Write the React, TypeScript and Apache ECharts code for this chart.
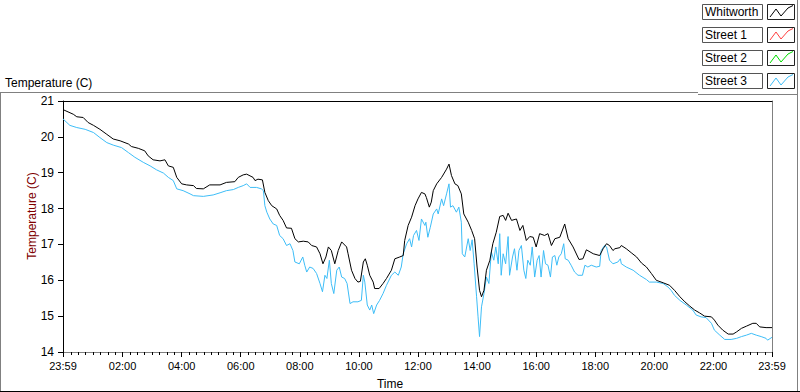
import React, { useEffect, useRef } from "react";
import * as echarts from "echarts";

// ---- Data (minutes elapsed since the 23:59 start, temperature in °C) ----
const seriesNames = ["Whitworth", "Street 1", "Street 2", "Street 3"];

const whitworthMinutes = [
  0, 21, 28, 41, 51, 62, 75, 89, 102, 116, 133, 139, 153, 166, 173, 183, 197, 207, 214, 224,
  231, 241, 251, 265, 271, 285, 298, 319, 332, 349, 356, 366, 373, 386, 390, 396, 405, 410, 417, 424,
  434, 440, 447, 454, 464, 471, 478, 488, 498, 505, 515, 522, 528, 534, 539, 545, 552, 559, 566, 576,
  579, 586, 593, 599, 604, 610, 614, 618, 623, 630, 633, 642, 650, 657, 667, 674, 684, 691, 694, 701,
  708, 715, 721, 728, 735, 738, 744, 748, 752, 759, 769, 779, 784, 789, 796, 802, 809, 814, 823, 830,
  836, 841, 846, 850, 855, 860, 867, 873, 880, 887, 894, 899, 904, 911, 921, 928, 934, 941, 948, 955,
  961, 968, 978, 985, 992, 999, 1009, 1019, 1026, 1036, 1048, 1056, 1063, 1077, 1090, 1097, 1104, 1110, 1117, 1121,
  1131, 1134, 1144, 1154, 1165, 1175, 1185, 1195, 1205, 1219, 1232, 1242, 1253, 1263, 1273, 1283, 1293, 1303, 1317, 1323,
  1330, 1340, 1351, 1361, 1368, 1378, 1388, 1401, 1408, 1415, 1428, 1440,
];
const whitworthTemp = [
  20.76, 20.63, 20.56, 20.54, 20.4, 20.32, 20.21, 20.07, 19.94, 19.89, 19.8, 19.73, 19.68, 19.61, 19.47, 19.36, 19.33, 19.36, 19.19, 19.15,
  18.87, 18.69, 18.66, 18.64, 18.56, 18.55, 18.66, 18.66, 18.73, 18.75, 18.87, 18.94, 18.96, 18.87, 18.78, 18.82, 18.8, 18.45, 18.22, 18.08,
  17.99, 17.81, 17.67, 17.46, 17.45, 17.16, 17.07, 17.09, 17.07, 16.97, 16.93, 16.74, 16.46, 16.65, 16.93, 16.83, 16.46, 16.83, 17.07, 16.93,
  16.74, 16.28, 16.05, 15.95, 15.97, 16.51, 16.6, 16.42, 16.14, 15.95, 15.77, 15.77, 15.91, 16.05, 16.28, 16.6, 16.65, 16.69, 17.11, 17.53,
  17.76, 18.08, 18.27, 18.45, 18.41, 18.31, 18.04, 18.18, 18.5, 18.69, 18.87, 19.1, 19.24, 18.92, 18.69, 18.64, 18.41, 17.85, 17.62, 17.39,
  17.16, 16.37, 15.72, 15.54, 15.72, 16.28, 16.56, 17.02, 17.34, 17.78, 17.81, 17.67, 17.87, 17.67, 17.71, 17.39, 17.53, 17.11, 17.22, 17.2,
  16.93, 17.3, 17.25, 17.3, 16.97, 17.16, 17.2, 17.57, 17.16, 16.93, 16.58, 16.6, 16.85, 16.74, 16.69, 16.88, 17.02, 16.97, 16.83, 16.88,
  16.91, 16.97, 16.88, 16.77, 16.65, 16.48, 16.37, 16.19, 16.0, 15.93, 15.86, 15.72, 15.54, 15.4, 15.28, 15.17, 15.09, 15.0, 14.98, 14.89,
  14.75, 14.61, 14.5, 14.5, 14.56, 14.66, 14.72, 14.8, 14.8, 14.7, 14.68, 14.68,
];

const street3Minutes = [
  0, 14, 28, 45, 62, 75, 89, 102, 119, 133, 146, 163, 177, 190, 204, 214, 224, 231, 244, 258,
  265, 285, 305, 319, 332, 346, 356, 366, 373, 380, 393, 403, 407, 410, 414, 420, 427, 434, 440, 447,
  454, 461, 467, 471, 480, 487, 491, 495, 501, 508, 515, 522, 527, 532, 536, 541, 545, 550, 556, 561,
  566, 572, 577, 583, 589, 599, 606, 610, 613, 618, 623, 627, 631, 637, 643, 650, 657, 667, 674, 681,
  687, 691, 698, 704, 708, 712, 718, 723, 728, 735, 737, 741, 746, 752, 759, 762, 769, 773, 779, 784,
  787, 792, 799, 804, 809, 811, 816, 823, 827, 831, 835, 840, 843, 846, 850, 855, 860, 865, 870, 875,
  879, 884, 887, 890, 894, 899, 904, 907, 913, 917, 922, 926, 931, 936, 940, 944, 949, 953, 958, 963,
  967, 971, 976, 980, 985, 990, 994, 999, 1003, 1007, 1012, 1017, 1020, 1026, 1032, 1039, 1046, 1055, 1060, 1066,
  1073, 1083, 1090, 1093, 1100, 1104, 1110, 1117, 1127, 1132, 1134, 1144, 1158, 1171, 1185, 1191, 1205, 1219, 1229, 1235,
  1242, 1253, 1266, 1279, 1286, 1296, 1306, 1317, 1323, 1334, 1344, 1357, 1368, 1378, 1388, 1398, 1408, 1418, 1428, 1431,
  1440,
];
const street3Temp = [
  20.5, 20.32, 20.26, 20.21, 20.12, 19.98, 19.84, 19.77, 19.7, 19.56, 19.43, 19.29, 19.19, 19.08, 18.99, 18.87, 18.78, 18.55, 18.5, 18.41,
  18.36, 18.34, 18.38, 18.44, 18.5, 18.53, 18.59, 18.64, 18.69, 18.59, 18.59, 18.55, 18.5, 18.08, 17.9, 17.71, 17.57, 17.53, 17.25, 17.16,
  16.97, 17.02, 16.83, 16.51, 16.46, 16.65, 16.42, 16.23, 16.37, 16.33, 16.19, 15.91, 15.68, 16.14, 16.05, 16.56, 15.91, 15.63, 16.28, 16.37,
  16.09, 16.05, 15.91, 15.35, 15.4, 15.4, 15.44, 16.14, 15.95, 15.31, 15.17, 15.31, 15.07, 15.31, 15.44, 15.63, 15.86, 16.14, 16.23, 16.14,
  16.37, 16.74, 17.02, 17.16, 16.93, 17.25, 17.39, 17.11, 17.71, 17.53, 17.62, 17.2, 17.48, 17.85, 17.99, 17.85, 18.27, 18.08, 18.41, 18.69,
  18.04, 18.08, 17.9, 18.04, 17.62, 16.74, 16.65, 17.16, 16.83, 17.13, 16.46, 15.54, 14.98, 14.43, 15.26, 15.63, 16.09, 15.91, 16.79, 16.56,
  16.93, 16.46, 17.3, 16.14, 16.74, 16.46, 17.22, 16.14, 16.65, 16.88, 16.28, 16.83, 16.97, 16.28, 16.05, 16.56, 16.42, 16.93, 16.09, 16.56,
  16.69, 16.09, 16.83, 16.46, 16.42, 16.09, 16.65, 16.69, 16.42, 16.65, 16.74, 17.02, 16.6, 16.56, 16.42, 16.23, 16.14, 16.14, 16.42, 16.37,
  16.42, 16.37, 16.39, 16.83, 16.97, 16.93, 16.56, 16.46, 16.51, 16.6, 16.46, 16.37, 16.28, 16.14, 16.02, 15.95, 15.95, 15.91, 15.81, 15.72,
  15.58, 15.44, 15.31, 15.17, 15.03, 14.98, 14.96, 14.8, 14.61, 14.47, 14.35, 14.35, 14.38, 14.43, 14.47, 14.52, 14.47, 14.43, 14.38, 14.33,
  14.41,
];

const street1Minutes: number[] = [];
const street1Temp: number[] = [];
const street2Minutes: number[] = [];
const street2Temp: number[] = [];

const xTickLabels = ["23:59", "02:00", "04:00", "06:00", "08:00", "10:00", "12:00", "14:00", "16:00", "18:00", "20:00", "22:00", "23:59"];
const yMin = 14;
const yMax = 21;
const yStep = 1;
const minorTickStep = 15; // minutes

const seriesColors = ["#000000", "#ff4040", "#00dd00", "#3dbdf7"];

const START = 23 * 60 + 59;
const SPAN = 1440;

function clockToOffset(label: string, isLast: boolean) {
  const [h, m] = label.split(":").map(Number);
  const off = (h * 60 + m - START + SPAN) % SPAN;
  return isLast && off === 0 ? SPAN : off;
}
function offsetToClock(v: number) {
  const t = (Math.round(v) + START) % SPAN;
  const h = Math.floor(t / 60);
  const m = t % 60;
  return String(h).padStart(2, "0") + ":" + String(m).padStart(2, "0");
}

const majorTicks = xTickLabels.map((l, i) => clockToOffset(l, i === xTickLabels.length - 1));
const minorTicks: number[] = [];
for (let off = 1 + minorTickStep; off < SPAN; off += minorTickStep) {
  if (!majorTicks.some((t) => Math.abs(t - off) < 2)) minorTicks.push(off);
}

const pairs = (xs: number[], ys: number[]) => xs.map((x, i) => [x, ys[i]]);

const FONT = "'Liberation Sans', Arial, sans-serif";

export default function App() {
  const ref = useRef<HTMLDivElement>(null);
  useEffect(() => {
    if (!ref.current) return;
    const chart = echarts.init(ref.current, undefined, { renderer: "svg" });

    const legendGraphics: any[] = [];
    seriesNames.forEach((name, i) => {
      const y0 = 4 + i * 23;
      legendGraphics.push({
        type: "rect",
        shape: { x: 702.5, y: y0 + 0.5, width: 60, height: 15 },
        style: { fill: "#ffffff", stroke: "#555555", lineWidth: 1 },
      });
      legendGraphics.push({
        type: "text",
        x: 705,
        y: y0 + 8,
        style: { text: name, font: `12px ${FONT}`, fill: "#000000", textVerticalAlign: "middle", textAlign: "left" },
      });
      legendGraphics.push({
        type: "rect",
        shape: { x: 767.5, y: y0 + 0.5, width: 27, height: 15 },
        style: { fill: "#ffffff", stroke: "#222222", lineWidth: 1 },
      });
      legendGraphics.push({
        type: "polyline",
        shape: {
          points: [
            [770, y0 + 13],
            [776, y0 + 5],
            [781, y0 + 12],
            [788, y0 + 4],
            [793, y0 + 1.5],
          ],
        },
        style: { stroke: seriesColors[i], lineWidth: 1, fill: "none" },
      });
    });

    const frame = [
      { type: "line", shape: { x1: 0, y1: 92.5, x2: 698, y2: 92.5 }, style: { stroke: "#808080", lineWidth: 1 } },
      { type: "line", shape: { x1: 698, y1: 94.5, x2: 797, y2: 94.5 }, style: { stroke: "#808080", lineWidth: 1 } },
      { type: "line", shape: { x1: 797.5, y1: 0, x2: 797.5, y2: 392 }, style: { stroke: "#808080", lineWidth: 1 } },
      { type: "line", shape: { x1: 0.5, y1: 92, x2: 0.5, y2: 392 }, style: { stroke: "#808080", lineWidth: 1 } },
      { type: "line", shape: { x1: 0, y1: 391.5, x2: 800, y2: 391.5 }, style: { stroke: "#000000", lineWidth: 1 } },
    ];

    chart.setOption({
      animation: false,
      backgroundColor: "#ffffff",
      grid: { left: 63, top: 101, width: 709, height: 251, containLabel: false, show: false },
      xAxis: [
        {
          type: "value",
          min: 0,
          max: SPAN,
          position: "bottom",
          axisLine: { show: true, onZero: false, lineStyle: { color: "#808080", width: 1 } },
          axisTick: { show: true, length: 5, lineStyle: { color: "#000000" }, customValues: majorTicks },
          axisLabel: {
            show: true,
            customValues: majorTicks,
            formatter: (v: number) => offsetToClock(v),
            color: "#000000",
            fontFamily: FONT,
            fontSize: 11,
            margin: 8,
            showMinLabel: true,
            showMaxLabel: true,
          },
          splitLine: { show: false },
        },
        {
          type: "value",
          min: 0,
          max: SPAN,
          position: "bottom",
          axisLine: { show: false, onZero: false },
          axisTick: { show: true, length: 3, lineStyle: { color: "#000000" }, customValues: minorTicks },
          axisLabel: { show: false },
          splitLine: { show: false },
        },
        {
          type: "value",
          min: 0,
          max: SPAN,
          position: "top",
          axisLine: { show: true, onZero: false, lineStyle: { color: "#000000", width: 1 } },
          axisTick: { show: false },
          axisLabel: { show: false },
          splitLine: { show: false },
        },
      ],
      yAxis: [
        {
          type: "value",
          min: yMin,
          max: yMax,
          interval: yStep,
          position: "left",
          axisLine: { show: true, onZero: false, lineStyle: { color: "#000000", width: 1 } },
          axisTick: { show: true, length: 5, lineStyle: { color: "#000000" } },
          axisLabel: { color: "#000000", fontFamily: FONT, fontSize: 12, margin: 9 },
          splitLine: { show: false },
        },
        {
          type: "value",
          min: yMin,
          max: yMax,
          interval: yStep,
          position: "right",
          axisLine: { show: true, onZero: false, lineStyle: { color: "#808080", width: 1 } },
          axisTick: { show: false },
          axisLabel: { show: false },
          splitLine: { show: false },
        },
      ],
      legend: { show: false },
      series: [
        { name: seriesNames[0], data: pairs(whitworthMinutes, whitworthTemp) },
        { name: seriesNames[1], data: pairs(street1Minutes, street1Temp) },
        { name: seriesNames[2], data: pairs(street2Minutes, street2Temp) },
        { name: seriesNames[3], data: pairs(street3Minutes, street3Temp) },
      ].map((s, i) => ({
        ...s,
        type: "line",
        xAxisIndex: 0,
        yAxisIndex: 0,
        showSymbol: false,
        symbol: "none",
        z: 10 - i,
        lineStyle: { color: seriesColors[i], width: 1 },
        itemStyle: { color: seriesColors[i] },
      })),
      graphic: [
        ...frame,
        {
          type: "text",
          x: 5,
          y: 83,
          style: { text: "Temperature (C)", font: `12px ${FONT}`, fill: "#000000", textVerticalAlign: "middle" },
        },
        {
          type: "text",
          x: 32,
          y: 216,
          rotation: Math.PI / 2,
          style: { text: "Temperature (C)", font: `12px ${FONT}`, fill: "#800000", textAlign: "center", textVerticalAlign: "middle" },
        },
        {
          type: "text",
          x: 390,
          y: 384,
          style: { text: "Time", font: `12px ${FONT}`, fill: "#000000", textAlign: "center", textVerticalAlign: "middle" },
        },
        ...legendGraphics,
      ],
    });
    return () => chart.dispose();
  }, []);
  return <div ref={ref} style={{ position: "absolute", left: 0, top: 0, width: 800, height: 392 }} />;
}
